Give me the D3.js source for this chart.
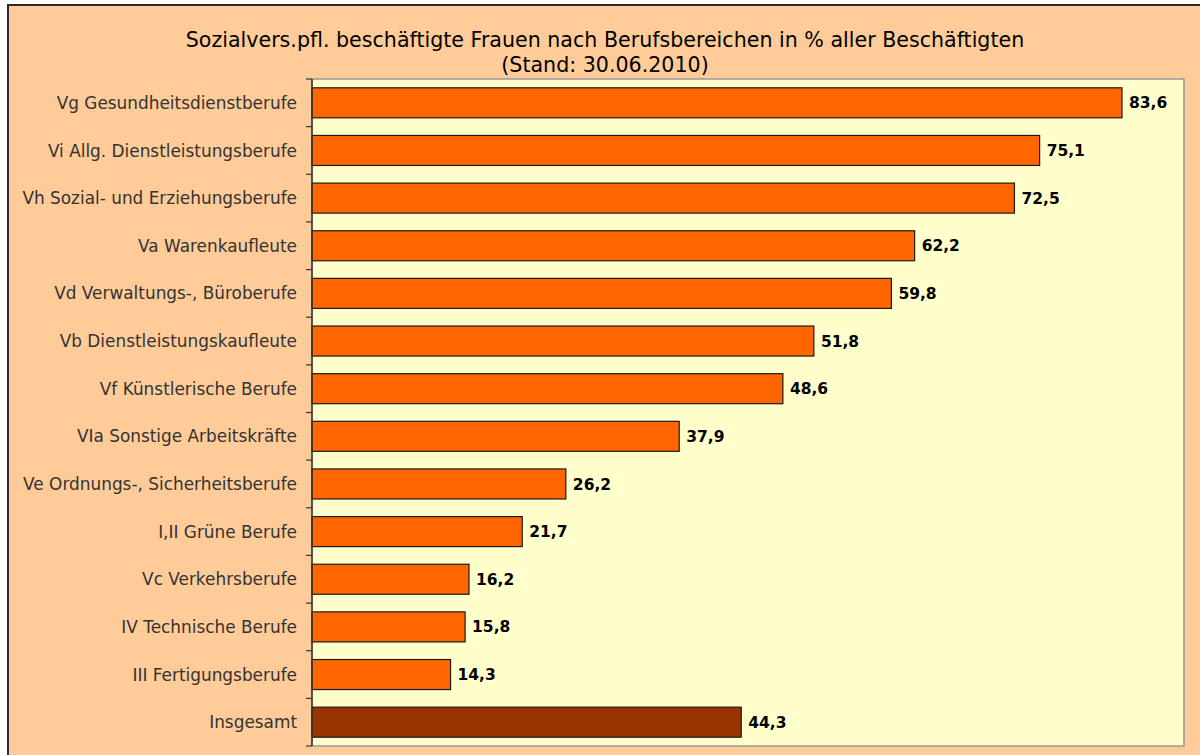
<!DOCTYPE html>
<html>
<head>
<meta charset="utf-8">
<script src="https://cdn.jsdelivr.net/npm/d3@7"></script>
<style>
  body { margin: 0; background: #fff; }
  text { font-family: "DejaVu Sans", "Open Sans", sans-serif; }
</style>
</head>
<body>
<div id="app"></div>
<script>
// Berufsbereiche und Anteile Frauen in %
const categories = [
  "Vg Gesundheitsdienstberufe",
  "Vi Allg. Dienstleistungsberufe",
  "Vh Sozial- und Erziehungsberufe",
  "Va Warenkaufleute",
  "Vd Verwaltungs-, Büroberufe",
  "Vb Dienstleistungskaufleute",
  "Vf Künstlerische Berufe",
  "VIa Sonstige Arbeitskräfte",
  "Ve Ordnungs-, Sicherheitsberufe",
  "I,II Grüne Berufe",
  "Vc Verkehrsberufe",
  "IV Technische Berufe",
  "III Fertigungsberufe",
  "Insgesamt"
];
const values = [83.6, 75.1, 72.5, 62.2, 59.8, 51.8, 48.6, 37.9, 26.2, 21.7, 16.2, 15.8, 14.3, 44.3];
const titleLines = [
  "Sozialvers.pfl. beschäftigte Frauen nach Berufsbereichen in % aller Beschäftigten",
  "(Stand: 30.06.2010)"
];

const W = 1200, H = 755;
const plot = { left: 312, top: 79, right: 1184, bottom: 746 };

const svg = d3.select("#app").append("svg")
  .attr("width", W)
  .attr("height", H);

// äußerer Rahmen
svg.append("rect")
  .attr("x", 8).attr("y", 5)
  .attr("width", W + 10).attr("height", H + 10)
  .attr("fill", "#ffcc99")
  .attr("stroke", "#2b2b2b")
  .attr("stroke-width", 2);

// Titel
svg.append("g").selectAll("text")
  .data(titleLines)
  .enter().append("text")
  .attr("x", 605)
  .attr("y", (d, i) => 47 + i * 25)
  .attr("text-anchor", "middle")
  .attr("font-size", 20.6)
  .attr("fill", "#000")
  .text(d => d);

const x = d3.scaleLinear()
  .domain([0, 90])
  .range([plot.left, plot.right]);

const y = d3.scaleBand()
  .domain(categories)
  .range([plot.top, plot.bottom])
  .paddingInner(0.37)
  .paddingOuter(0.185);

const yCat = d3.scaleBand()
  .domain(categories)
  .range([plot.top, plot.bottom]);

// Zeichenfläche
svg.append("rect")
  .attr("x", plot.left).attr("y", plot.top)
  .attr("width", plot.right - plot.left)
  .attr("height", plot.bottom - plot.top)
  .attr("fill", "#ffffcc")
  .attr("stroke", "#999")
  .attr("stroke-width", 1.5);

// Balken
svg.append("g").selectAll("rect")
  .data(values)
  .enter().append("rect")
  .attr("x", x(0))
  .attr("y", (d, i) => y(categories[i]))
  .attr("width", d => x(d) - x(0))
  .attr("height", y.bandwidth())
  .attr("fill", (d, i) => categories[i] === "Insgesamt" ? "#993300" : "#ff6600")
  .attr("stroke", "#1a1a1a")
  .attr("stroke-width", 1.2);

// Werte
svg.append("g").selectAll("text")
  .data(values)
  .enter().append("text")
  .attr("x", d => x(d) + 7)
  .attr("y", (d, i) => y(categories[i]) + y.bandwidth() / 2)
  .attr("dy", "0.36em")
  .attr("font-size", 15.5)
  .attr("font-weight", "bold")
  .attr("fill", "#000")
  .text(d => d3.format(".1f")(d).replace(".", ","));

// Achse links
const ticks = categories.map(c => yCat(c)).concat([plot.bottom]);
const axis = svg.append("g");
axis.append("line")
  .attr("x1", plot.left).attr("x2", plot.left)
  .attr("y1", plot.top).attr("y2", plot.bottom)
  .attr("stroke", "#333").attr("stroke-width", 1.5);
axis.selectAll(".tick")
  .data(ticks)
  .enter().append("line")
  .attr("x1", plot.left - 6).attr("x2", plot.left)
  .attr("y1", d => d).attr("y2", d => d)
  .attr("stroke", "#333").attr("stroke-width", 1.2);

axis.selectAll(".lab")
  .data(categories)
  .enter().append("text")
  .attr("x", plot.left - 15)
  .attr("y", d => yCat(d) + yCat.bandwidth() / 2)
  .attr("dy", "0.36em")
  .attr("text-anchor", "end")
  .attr("font-size", 16.9)
  .attr("fill", "#333")
  .text(d => d);
</script>
</body>
</html>
